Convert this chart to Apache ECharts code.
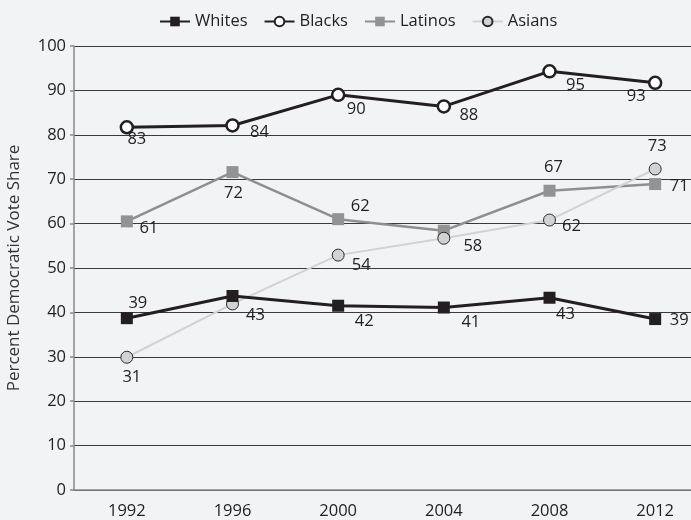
<!DOCTYPE html>
<html>
<head>
<meta charset="utf-8">
<script src="https://cdn.jsdelivr.net/npm/echarts@6/dist/echarts.min.js"></script>
<style>
html,body{margin:0;padding:0;background:#f2f3f5;}
#chart{width:691px;height:520px;}
</style>
</head>
<body>
<div id="chart"></div>
<script>
// ---- data ----
var years = ['1992', '1996', '2000', '2004', '2008', '2012'];
var whites = [38.7, 43.7, 41.5, 41.1, 43.3, 38.5];
var blacks = [81.7, 82.1, 89.0, 86.4, 94.3, 91.7];
var latinos = [60.5, 71.6, 61.0, 58.4, 67.4, 68.9];
var asians = [29.9, 41.9, 52.9, 56.7, 60.8, 72.3];
var whitesLabels = ['39', '43', '42', '41', '43', '39'];
var blacksLabels = ['83', '84', '90', '88', '95', '93'];
var latinosLabels = ['61', '72', '62', '', '67', '71'];
var asiansLabels = ['31', '', '54', '58', '62', '73'];
var yTicks = [0, 10, 20, 30, 40, 50, 60, 70, 80, 90, 100];
var axisTitle = 'Percent Democratic Vote Share';

// ---- label placement (style only) ----
var labelOffsets = {
  Whites: [[11,-15],[23,19],[26,16],[27,15],[16,17],[24,1]],
  Blacks: [[10,12],[27,7],[18,14],[25,9],[26,14],[-19,13]],
  Latinos: [[22,7],[1,21],[22,-13],[0,0],[4,-23],[24,2]],
  Asians: [[5,20],[0,0],[23,10],[29,8],[22,6],[2,-23]]
};

var FONT = 'Open Sans';
var FS = 16.5;

function build(name, values, labels) {
  return values.map(function (v, i) {
    return {
      value: v,
      label: {
        show: labels[i] !== '',
        formatter: labels[i],
        position: 'inside',
        align: 'center',
        verticalAlign: 'middle',
        offset: labelOffsets[name][i],
        fontFamily: FONT,
        fontSize: FS,
        color: '#222'
      }
    };
  });
}

var chart = echarts.init(document.getElementById('chart'), null, {renderer: 'canvas'});
chart.setOption({
  backgroundColor: '#f2f3f5',
  animation: false,
  legend: {
    top: 8,
    left: 154,
    itemWidth: 30,
    itemHeight: 12,
    itemGap: 16,
    textStyle: {fontFamily: FONT, fontSize: FS, color: '#222'},
    data: ['Whites', 'Blacks', 'Latinos', 'Asians']
  },
  grid: {left: 74, width: 634, top: 46, bottom: 30, containLabel: false, outerBoundsMode: 'none'},
  xAxis: {
    type: 'category',
    data: years,
    boundaryGap: true,
    axisLine: {lineStyle: {color: '#8a8a8a', width: 1.5}},
    axisTick: {show: false},
    axisLabel: {fontFamily: FONT, fontSize: FS, color: '#222', margin: 13},
    splitLine: {show: false}
  },
  yAxis: {
    type: 'value',
    min: yTicks[0],
    max: yTicks[yTicks.length - 1],
    interval: yTicks[1] - yTicks[0],
    name: axisTitle,
    nameLocation: 'middle',
    nameGap: 51,
    nameTextStyle: {fontFamily: FONT, fontSize: 17, color: '#333'},
    axisLine: {show: true, lineStyle: {color: '#8a8a8a', width: 1.5}},
    axisTick: {show: true, length: 4, lineStyle: {color: '#8a8a8a', width: 1.5}},
    axisLabel: {fontFamily: FONT, fontSize: FS, color: '#222', margin: 8},
    splitLine: {lineStyle: {color: '#3a3a3a', width: 1}}
  },
  series: [
    {
      name: 'Whites', type: 'line',
      data: build('Whites', whites, whitesLabels),
      symbol: 'rect', symbolSize: 12,
      lineStyle: {color: '#231f20', width: 3},
      itemStyle: {color: '#231f20', borderWidth: 0},
      z: 4
    },
    {
      name: 'Blacks', type: 'line',
      data: build('Blacks', blacks, blacksLabels),
      symbol: 'circle', symbolSize: 12,
      lineStyle: {color: '#231f20', width: 3},
      itemStyle: {color: '#ffffff', borderColor: '#231f20', borderWidth: 2.5},
      z: 4
    },
    {
      name: 'Latinos', type: 'line',
      data: build('Latinos', latinos, latinosLabels),
      symbol: 'rect', symbolSize: 12,
      lineStyle: {color: '#8f8f8f', width: 2.5},
      itemStyle: {color: '#939393', borderWidth: 0},
      z: 3
    },
    {
      name: 'Asians', type: 'line',
      data: build('Asians', asians, asiansLabels),
      symbol: 'circle', symbolSize: 12,
      lineStyle: {color: '#d2d2d2', width: 2},
      itemStyle: {color: '#d2d2d2', borderColor: '#2a2a2a', borderWidth: 1},
      z: 3
    }
  ]
});
</script>
</body>
</html>
